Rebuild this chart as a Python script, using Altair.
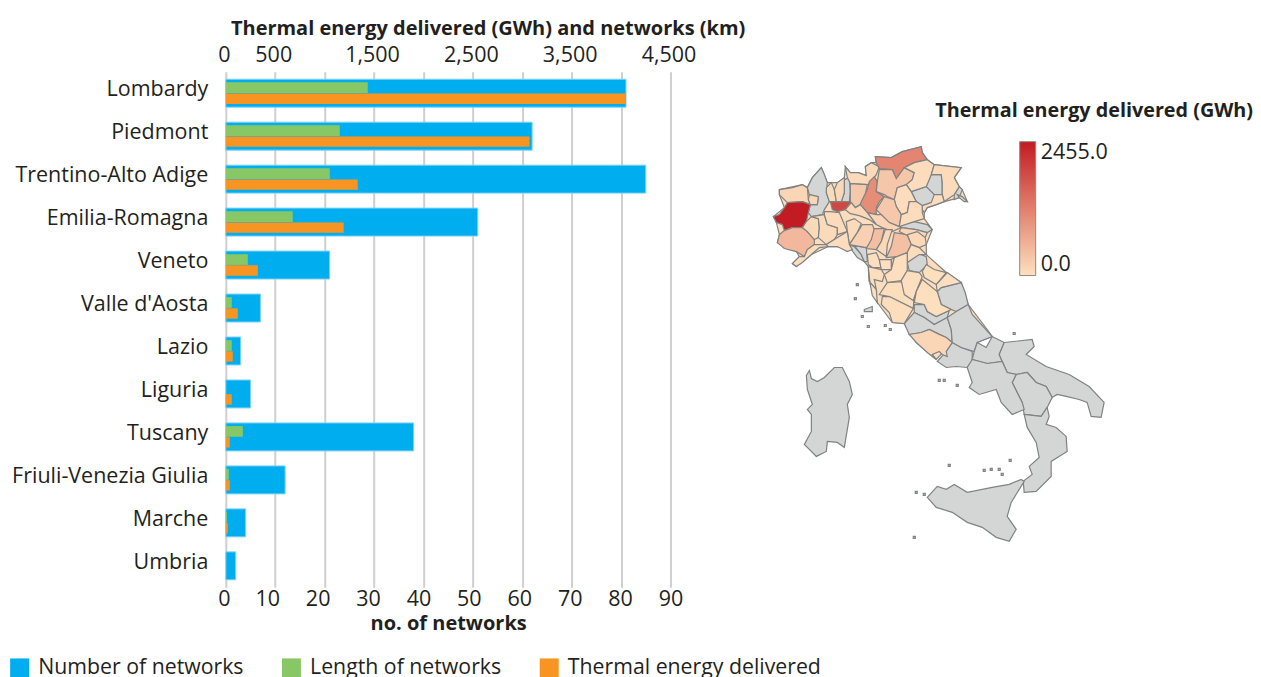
import altair as alt
import pandas as pd

FONT = "Open Sans"
TEXT = "#231f20"

REGIONS = ["Lombardy", "Piedmont", "Trentino-Alto Adige", "Emilia-Romagna", "Veneto", "Valle d'Aosta",
           "Lazio", "Liguria", "Tuscany", "Friuli-Venezia Giulia", "Marche", "Umbria"]
N_NETWORKS = [81, 62, 85, 51, 21, 7, 3, 5, 38, 12, 4, 2]
LENGTH_KM = [1436, 1153, 1052, 677, 222, 60, 60, 0, 172, 30, 10, 0]
THERMAL_GWH = [4045, 3074, 1335, 1193, 324, 121, 70, 60, 40, 40, 20, 0]
SERIES = ["Number of networks", "Length of networks", "Thermal energy delivered"]
SERIES_COLOURS = ["#00AEEF", "#88C765", "#F89522"]
NET_TICKS = [0, 10, 20, 30, 40, 50, 60, 70, 80, 90]
ENERGY_TICKS = [0, 500, 1500, 2500, 3500, 4500]

# Map values (GWh) per province; provinces missing here have no data
GWH = {"Torino": 2455, "Milano": 1900, "Bolzano": 1150, "Brescia": 1050, "Cuneo": 520, "Aosta": 130,
       "Biella": 130, "Asti": 80, "Alessandria": 70, "Pavia": 60, "Varese": 70, "Como": 120, "Sondrio": 90,
       "Bergamo": 300, "Trento": 330, "Belluno": 50, "Udine": 60, "Venezia": 50, "Vicenza": 50, "Verona": 300,
       "Padova": 50, "Mantova": 150, "Cremona": 120, "Piacenza": 70, "Parma": 200, "Reggio": 430, "Modena": 100,
       "Bologna": 420, "Ferrara": 150, "Ravenna": 100, "Forli": 50, "Genova": 50, "Savona": 40, "Lucca": 20,
       "Pistoia": 20, "Prato": 20, "Firenze": 20, "Pisa": 30, "Livorno": 20, "Siena": 30, "Grosseto": 30,
       "Arezzo": 20, "Perugia": 10, "Pesaro": 10, "Ancona": 20, "Frosinone": 130}

# Outer outline of northern and central Italy, drawn under the provinces
LAND = [(780,190),(803,185),(808,188),(813,178),(822,168),(825,175),(828,183),(832,183),(838,183),(845,178),(846,167),
        (851,173),(859,173),(867,176),(866,167),(872,163),(877,163),(876,157),(892,158),(903,152),(922,147),(923,153),
        (928,160),(935,165),(962,168),(955,178),(960,187),(963,190),(968,202),(960,198),(945,202),(937,205),(928,208),
        (925,213),(925,219),(933,230),(927,245),(927,255),(947,273),(962,283),(969,305),(988,330),(993,337),(978,343),
        (953,343),(937,360),(917,343),(905,324),(893,323),(878,303),(871,285),(869,267),(865,262),(853,250),(838,247),
        (829,247),(812,255),(797,267),(793,264),(800,257),(797,252),(778,243),(780,235),(777,223),(774,217),(785,208),(780,195)]

# Province outlines, in map units
OUTLINES = {
    "Aosta": [(780,190),(793,188),(803,185),(808,188),(809,200),(811,205),(803,202),(788,203),(783,198),(780,195)],
    "Torino": [(774,217),(780,215),(785,208),(788,203),(803,202),(811,205),(809,213),(807,222),(803,228),(793,228),(785,231),(783,225),(777,223)],
    "Novara": [(808,188),(813,178),(822,168),(825,175),(828,183),(827,193),(830,202),(825,210),(823,215),(812,217),(809,213),(811,205),(818,205),(819,197),(810,195)],
    "Biella": [(810,195),(819,197),(818,205),(811,205),(809,200)],
    "Cuneo": [(780,235),(785,231),(793,228),(803,228),(808,232),(815,240),(815,245),(808,250),(805,257),(797,252),(785,249),(778,243)],
    "Asti": [(807,222),(812,217),(819,219),(820,228),(819,238),(815,240),(808,232),(803,228)],
    "Alessandria": [(812,217),(825,215),(828,225),(838,228),(838,235),(835,240),(827,245),(819,238),(820,228),(819,219)],
    "Pavia": [(825,212),(831,212),(840,213),(845,225),(848,232),(838,235),(838,228),(828,225),(825,215)],
    "Milano": [(831,202),(852,202),(846,210),(838,212),(833,210)],
    "Varese": [(827,188),(832,183),(835,190),(837,202),(830,202),(827,193)],
    "Como": [(838,183),(845,178),(845,193),(842,202),(837,202),(835,190)],
    "Lecco": [(845,180),(850,178),(851,192),(850,202),(842,202),(845,193)],
    "Sondrio": [(846,167),(851,173),(859,173),(867,176),(866,167),(872,163),(880,167),(877,175),(871,183),(868,185),(851,184),(848,178)],
    "Bergamo": [(851,184),(868,185),(866,195),(861,205),(856,208),(851,202),(851,192)],
    "Brescia": [(875,177),(878,182),(877,192),(885,197),(880,202),(877,208),(877,215),(868,213),(861,205),(862,202),(868,190),(870,182)],
    "Bolzano": [(876,157),(892,158),(903,152),(922,147),(923,153),(928,160),(915,163),(905,168),(897,179),(893,170),(880,169),(877,163)],
    "Trento": [(880,170),(893,170),(897,179),(905,168),(915,173),(913,180),(907,185),(898,188),(895,200),(888,197),(885,195),(877,192),(878,182)],
    "Belluno": [(915,163),(928,160),(935,165),(932,175),(927,187),(912,192),(907,185),(913,180),(915,173),(905,168)],
    "Udine": [(935,165),(962,168),(955,178),(960,187),(955,195),(945,202),(943,195),(943,183),(942,175),(932,175)],
    "Pordenone": [(932,175),(942,175),(943,183),(943,195),(935,195),(927,187)],
    "Gorizia": [(955,195),(960,187),(963,190),(960,198),(955,200)],
    "Trieste": [(958,195),(963,197),(968,202),(965,202),(960,198)],
    "Treviso": [(912,192),(927,187),(935,195),(938,198),(932,203),(923,206),(917,202)],
    "Venezia": [(935,195),(943,195),(945,202),(937,205),(928,208),(925,213),(923,210),(923,206),(932,203)],
    "Vicenza": [(895,200),(898,188),(907,185),(912,192),(917,202),(910,202),(908,213),(902,215),(897,207)],
    "Verona": [(877,210),(885,197),(895,200),(897,207),(902,215),(900,227),(890,223),(882,215)],
    "Padova": [(908,213),(910,202),(917,202),(923,206),(923,213),(925,219),(915,222),(900,227),(902,215)],
    "Rovigo": [(900,225),(915,222),(928,225),(933,230),(928,233),(917,230),(902,228)],
    "Mantova": [(868,213),(877,215),(882,215),(890,223),(900,227),(902,228),(893,232),(883,228),(877,225)],
    "Cremona": [(846,210),(852,203),(856,208),(861,205),(868,213),(877,225),(870,220),(860,216),(851,214)],
    "Piacenza": [(847,222),(855,219),(862,224),(858,233),(850,245),(848,232)],
    "Parma": [(863,225),(873,225),(875,230),(872,243),(867,248),(850,245),(858,233)],
    "Reggio": [(875,229),(885,229),(882,242),(877,250),(867,249),(872,240)],
    "Modena": [(886,230),(893,230),(888,245),(887,257),(877,250),(882,242)],
    "Bologna": [(895,233),(908,235),(912,245),(908,253),(898,257),(887,258),(892,247)],
    "Ferrara": [(902,228),(917,230),(928,233),(926,238),(922,245),(910,237),(900,232)],
    "Ravenna": [(908,235),(918,232),(926,238),(927,245),(920,248),(912,245)],
    "Forli": [(912,245),(920,248),(927,255),(920,255),(908,263),(908,253)],
    "Rimini": [(908,263),(917,253),(927,257),(928,265),(920,273),(910,271)],
    "Savona": [(793,264),(800,257),(805,257),(808,250),(815,245),(827,245),(829,247),(820,248),(812,255),(803,263),(797,267)],
    "Genova": [(827,245),(835,240),(848,232),(850,245),(853,250),(848,252),(838,247),(829,247)],
    "Spezia": [(850,245),(855,247),(862,255),(865,262),(858,258),(852,250)],
    "Massa": [(855,246),(867,248),(868,262),(865,262),(862,255)],
    "Lucca": [(868,255),(877,253),(880,260),(882,268),(873,268),(869,265)],
    "Pistoia": [(880,260),(892,260),(892,270),(882,270)],
    "Prato": [(892,260),(895,258),(893,270)],
    "Firenze": [(895,258),(908,253),(908,263),(908,271),(902,281),(888,283),(885,275),(892,270)],
    "Pisa": [(869,267),(882,270),(885,275),(883,282),(875,280),(877,290),(870,282)],
    "Livorno": [(869,270),(870,282),(877,290),(878,303),(873,296),(871,285)],
    "Siena": [(888,283),(902,282),(915,295),(914,309),(900,302),(890,297),(880,295)],
    "Grosseto": [(883,297),(890,297),(900,302),(914,309),(905,324),(893,323),(890,313),(882,305)],
    "Arezzo": [(902,281),(908,271),(920,273),(923,277),(917,292),(914,301),(905,295)],
    "Perugia": [(923,280),(938,292),(942,305),(952,310),(937,317),(928,312),(925,305),(915,303),(917,292)],
    "Pesaro": [(927,265),(935,270),(947,273),(937,285),(925,278),(923,272)],
    "Ancona": [(948,273),(962,283),(942,288),(938,292),(937,285)],
    "Ascoli": [(942,288),(962,283),(966,293),(969,305),(957,312),(952,310),(942,305),(938,292)],
    "Rieti": [(915,305),(925,305),(928,312),(937,317),(950,311),(948,318),(935,325),(925,318),(915,313)],
    "Roma": [(905,324),(915,313),(925,318),(935,325),(948,318),(952,330),(953,343),(947,338),(930,330),(922,333),(910,335)],
    "Frosinone": [(910,335),(922,333),(930,330),(940,335),(947,338),(953,343),(947,352),(948,357),(943,355),(940,352),(933,355),(937,360),(928,353),(917,343)],
    "Caserta": [(953,343),(962,348),(973,352),(973,362),(968,368),(957,367),(947,368),(938,362),(947,352)],
    "Abruzzo": [(948,318),(957,312),(969,305),(973,315),(993,337),(978,343),(975,352),(962,348),(953,343),(952,330)],
    "Benevento": [(978,343),(987,348),(993,337),(1005,343),(1000,355),(1003,362),(988,364),(973,360),(975,352)],
    "Puglia": [(1005,343),(1033,340),(1035,347),(1027,355),(1047,367),(1070,375),(1090,387),(1105,403),(1102,418),(1092,417),(1088,403),(1080,400),(1067,397),(1058,395),(1053,398),(1047,387),(1037,383),(1028,373),(1017,375),(1008,373),(1000,355)],
    "Basilicata": [(1017,375),(1028,373),(1037,383),(1047,387),(1053,398),(1048,408),(1042,417),(1025,415),(1023,403),(1013,383)],
    "Salerno": [(968,368),(973,360),(988,364),(1003,362),(1008,373),(1017,375),(1013,383),(1023,403),(1025,410),(1013,415),(1002,403),(997,390),(980,395),(970,388),(973,383)],
    "Calabria": [(1025,415),(1042,417),(1048,408),(1050,417),(1047,425),(1057,428),(1067,437),(1068,452),(1052,462),(1052,477),(1037,492),(1025,493),(1024,482),(1033,475),(1030,467),(1040,458),(1037,443),(1028,428)],
    "Sicilia": [(928,498),(938,487),(947,490),(955,485),(968,493),(993,488),(1010,485),(1022,480),(1025,482),(1012,503),(1008,517),(1017,530),(1010,542),(997,538),(983,528),(968,523),(953,513),(937,508)],
    "Sardegna": [(807,376),(810,371),(812,379),(818,382),(825,378),(835,368),(843,368),(850,382),(853,395),(848,405),(850,418),(845,448),(838,443),(828,442),(827,452),(817,457),(805,445),(812,432),(812,415),(808,410),(813,405),(808,390)],
    "Elba": [(865,310),(873,307),(873,312),(865,312)],
}
ISLETS = [(858,285),(856,299),(863,317),(886,326),(891,330),(869,327),(1015,334),(985,471),(992,470),(1000,470),
          (1003,475),(1011,461),(950,466),(917,493),(925,495),(915,538),(940,381),(945,381),(958,386)]

MAP_TITLE = "Thermal energy delivered (GWh)"
MAP_TICKS = [0, 2455]


def feature(name, points):
    ring = [list(p) for p in points] + [list(points[0])]
    return {"type": "Feature", "properties": {"name": name, "gwh": GWH.get(name)},
            "geometry": {"type": "Polygon", "coordinates": [ring]}}


def islet(x, y):
    return [(x - 1, y - 1), (x + 1, y - 1), (x + 1, y + 1), (x - 1, y + 1)]


features = [feature(n, p) for n, p in OUTLINES.items()] + [feature(f"islet{i}", islet(*p)) for i, p in enumerate(ISLETS)]
grey_features = [f for f in features if f["properties"]["gwh"] is None]
value_features = [f for f in features if f["properties"]["gwh"] is not None]

df = pd.DataFrame({"region": REGIONS, "n": N_NETWORKS, "km": LENGTH_KM, "gwh": THERMAL_GWH})
df["s0"], df["s1"], df["s2"] = SERIES[0], SERIES[1], SERIES[2]

PANEL_X, PANEL_Y = 761, 72
FS = 21.5
TFS = 20
y_enc = alt.Y("region:N", sort=REGIONS, scale=alt.Scale(paddingInner=0, paddingOuter=0),
              axis=alt.Axis(title=None, domain=False, ticks=False, grid=False, labelFont=FONT, labelFontSize=FS,
                            labelColor=TEXT, labelPadding=18, labelOffset=-3, minExtent=217, maxExtent=217,
                            labelLimit=300))
colour_scale = alt.Scale(domain=SERIES, range=SERIES_COLOURS)
legend = alt.Legend(orient="none", legendX=-217, legendY=586, direction="horizontal", columns=3, title=None,
                    symbolType="square", symbolSize=361, symbolStrokeWidth=0, labelFont=FONT, labelFontSize=21.3,
                    labelColor=TEXT, labelOffset=8, columnPadding=37, labelLimit=400)

blue = alt.Chart(df).mark_bar(size=28, stroke="#7FD3F5", strokeWidth=1).encode(
    y=y_enc,
    x=alt.X("n:Q", scale=alt.Scale(domain=[0, 90], nice=False),
            axis=alt.Axis(orient="bottom", values=NET_TICKS, title="no. of networks", grid=True, gridColor="#CFCFCF",
                          gridWidth=2, domain=False, ticks=False, labelFont=FONT, labelFontSize=FS, labelColor=TEXT,
                          labelPadding=1, titleFont=FONT, titleFontSize=TFS, titleFontWeight="bold",
                          titleColor=TEXT, titlePadding=4, labelFlush=False,
                          labelOffset={"expr": "datum.value == 0 ? -2 : -(90 - datum.value) / 10"})),
    color=alt.Color("s0:N", scale=colour_scale, legend=legend),
)
green = alt.Chart(df).mark_bar(size=10.7, yOffset=-5.5).encode(
    y=y_enc,
    x=alt.X("km:Q", scale=alt.Scale(domain=[0, 4500], nice=False),
            axis=alt.Axis(orient="top", values=ENERGY_TICKS, title="Thermal energy delivered (GWh) and networks (km)",
                          grid=False, domain=False, ticks=False, labelFont=FONT, labelFontSize=FS, labelColor=TEXT,
                          labelPadding=5, labelOffset=-2, labelFlush=False, labelExpr="format(datum.value, ',')",
                          titleFont=FONT, titleFontSize=TFS, titleFontWeight="bold", titleColor=TEXT,
                          titlePadding=6, titleX=262)),
    color=alt.Color("s1:N", scale=colour_scale, legend=legend),
)
orange = alt.Chart(df).mark_bar(size=10.4, yOffset=5.5).encode(
    y=y_enc,
    x=alt.X("gwh:Q", scale=alt.Scale(domain=[0, 4500], nice=False), axis=None),
    color=alt.Color("s2:N", scale=colour_scale, legend=legend),
)
bars = alt.layer(blue, green, orange).resolve_scale(x="independent").properties(width=445, height=516)

PROJ = dict(type="identity", scale=1, translate=[-PANEL_X, -PANEL_Y])
STROKE = "#7F8283"
land_map = alt.Chart(alt.Data(values=[feature("land", LAND)])).mark_geoshape(fill="#FBDCBC", stroke=STROKE, strokeWidth=1.2).project(**PROJ)
grey_map = alt.Chart(alt.Data(values=grey_features)).mark_geoshape(fill="#D4D6D6", stroke=STROKE, strokeWidth=1.2).project(**PROJ)
value_map = alt.Chart(alt.Data(values=value_features)).mark_geoshape(stroke=STROKE, strokeWidth=1.2).encode(
    fill=alt.Fill("properties.gwh:Q",
                  scale=alt.Scale(domain=[0, 1227.5, 2455], range=["#FDE0BF", "#E27F6C", "#C21B23"], interpolate="rgb"),
                  legend=alt.Legend(orient="none", legendX=794.5, legendY=70, title=None, direction="vertical", type="gradient",
                                    gradientLength=134, gradientThickness=16, gradientStrokeColor="#8A8A8A",
                                    gradientStrokeWidth=1, values=MAP_TICKS, format=".1f", labelFont=FONT,
                                    labelFontSize=FS, labelColor=TEXT, labelBaseline="middle", labelOffset=5)),
).project(**PROJ)
map_title = alt.Chart(pd.DataFrame({"t": [MAP_TITLE]})).mark_text(
    align="left", baseline="middle", font=FONT, fontSize=19.8, fontWeight="bold", color=TEXT
).encode(text="t:N", x=alt.value(175), y=alt.value(39.5))
map_panel = alt.layer(land_map, grey_map, value_map, map_title).properties(width=480, height=516)

chart = alt.hconcat(bars, map_panel, spacing=15).properties(padding={"left": 1, "top": 10.5, "right": 0, "bottom": 0}).configure_view(stroke=None)
chart.save("out.html", embed_options={"renderer": "svg", "actions": False})
